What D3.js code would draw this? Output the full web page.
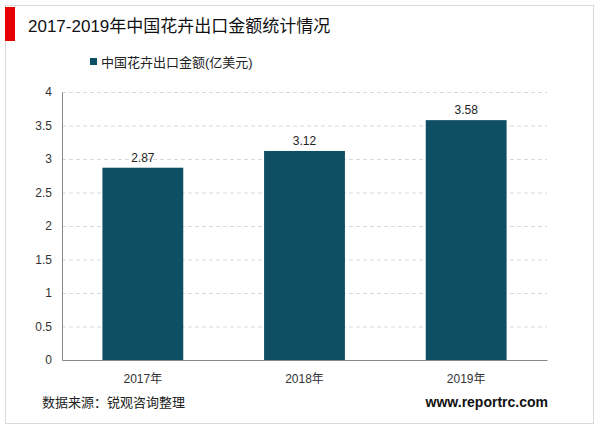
<!DOCTYPE html>
<html>
<head>
<meta charset="utf-8">
<script src="https://cdnjs.cloudflare.com/ajax/libs/d3/7.8.5/d3.min.js"></script>
<style>
  html, body { margin: 0; padding: 0; background: #fff; }
  text { font-family: "Liberation Sans", Arial, "Noto Sans CJK SC", sans-serif; }
</style>
</head>
<body>
<div id="chart"></div>
<script>
var years = ['2017年', '2018年', '2019年'];
var values = [2.87, 3.12, 3.58];
var yTicks = [0, 0.5, 1, 1.5, 2, 2.5, 3, 3.5, 4];

var svg = d3.select('#chart').append('svg').attr('width', 600).attr('height', 430);

// frame + title
svg.append('rect').attr('x', 5.5).attr('y', 5.5).attr('width', 588).attr('height', 418)
  .attr('fill', 'none').attr('stroke', '#d9d9d9');
svg.append('rect').attr('x', 5).attr('y', 7).attr('width', 10).attr('height', 34).attr('fill', '#e60000');
svg.append('text').attr('x', 28).attr('y', 32).attr('font-size', 17).attr('fill', '#111')
  .text('2017-2019年中国花卉出口金额统计情况');

// legend
svg.append('rect').attr('x', 90).attr('y', 58).attr('width', 7).attr('height', 7).attr('fill', '#0f4f63');
svg.append('text').attr('x', 101).attr('y', 67).attr('font-size', 13).attr('fill', '#222')
  .text('中国花卉出口金额(亿美元)');

var x = d3.scaleBand().domain(years).range([62, 547]).paddingInner(0.5).paddingOuter(0.25);
var y = d3.scaleLinear().domain([0, 4]).range([360, 92]);

// grid
svg.append('g').selectAll('line').data(yTicks.slice(1)).join('line')
  .attr('x1', 62).attr('x2', 547).attr('y1', d => y(d) + 0.5).attr('y2', d => y(d) + 0.5)
  .attr('stroke', '#d9d9d9').attr('stroke-dasharray', '4,3');

// bars
svg.append('g').selectAll('rect').data(values).join('rect')
  .attr('x', (d, i) => x(years[i])).attr('width', x.bandwidth())
  .attr('y', d => y(d)).attr('height', d => y(0) - y(d)).attr('fill', '#0f4f63');

svg.append('g').selectAll('text').data(values).join('text')
  .attr('x', (d, i) => x(years[i]) + x.bandwidth() / 2).attr('y', d => y(d) - 6)
  .attr('text-anchor', 'middle').attr('font-size', 12).attr('fill', '#222')
  .text(d => d.toFixed(2));

// axes
var ya = svg.append('g').attr('transform', 'translate(62,0)')
  .call(d3.axisLeft(y).tickValues(yTicks).tickSize(0).tickPadding(10).tickFormat(d3.format('')));
ya.select('.domain').attr('stroke', '#888');
ya.selectAll('text').attr('font-size', 12).attr('fill', '#333');

var xa = svg.append('g').attr('transform', 'translate(0,360)')
  .call(d3.axisBottom(x).tickSize(0).tickPadding(14));
xa.select('.domain').attr('stroke', '#888');
xa.selectAll('text').attr('font-size', 12).attr('fill', '#333');

// footer
svg.append('text').attr('x', 42).attr('y', 407).attr('font-size', 13).attr('fill', '#222')
  .text('数据来源：锐观咨询整理');
svg.append('text').attr('x', 548).attr('y', 407).attr('text-anchor', 'end')
  .attr('font-size', 14).attr('font-weight', 'bold').attr('fill', '#111')
  .text('www.reportrc.com');
</script>
</body>
</html>
